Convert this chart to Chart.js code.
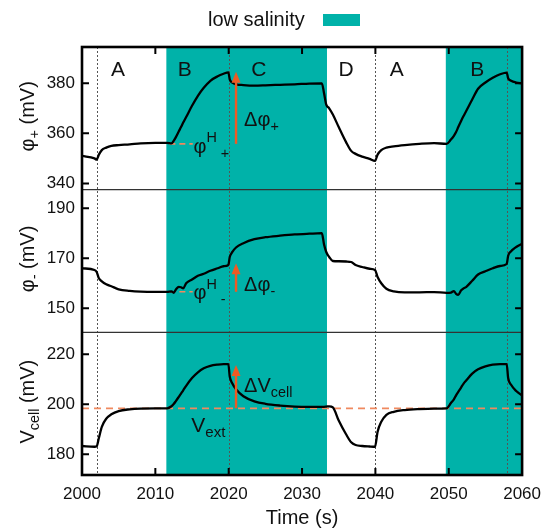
<!DOCTYPE html>
<html>
<head>
<meta charset="utf-8">
<script src="https://cdn.jsdelivr.net/npm/chart.js@4.4.0/dist/chart.umd.min.js"></script>
<style>
  html, body { margin: 0; padding: 0; background: #fff; }
</style>
</head>
<body>
<canvas id="chart" width="550" height="530"></canvas>
<script>
// time axis (s) and the three measured potentials (mV)
const time = [2000, 2001.7, 2002.0, 2002.3, 2002.7, 2003.3, 2004, 2005, 2006.5, 2008, 2010, 2011.6,
  2012.2, 2012.5, 2012.8, 2013.2, 2013.5, 2013.8, 2014.2, 2015, 2015.8, 2016.6, 2017.5, 2018.5, 2019.3, 2019.95, 2020.15,
  2020.5, 2021, 2022, 2023.5, 2025, 2027, 2029, 2031, 2032.7, 2033.0, 2033.3, 2033.7, 2034.2, 2035,
  2036, 2036.7, 2037.3, 2038.2, 2039.2, 2039.95, 2040.3, 2040.8, 2041.5, 2042.5, 2044, 2046, 2048,
  2049.7, 2050.3, 2050.7, 2051, 2051.3, 2051.7, 2052.0, 2052.4, 2053.2, 2054, 2055, 2056, 2057, 2057.9, 2058.1, 2058.5, 2059.2, 2060];

const phiPlus = [351, 350, 349.5, 351.5, 353.3, 354.3, 355, 355.3, 355.6, 356, 356.2, 356.2,
  356.0, 357, 358.5, 360.8, 362.5, 364.3, 366.5, 371, 375, 378.2, 381, 382.8, 383.8, 384.4, 381.5,
  380.3, 379.6, 379.3, 379.1, 379.2, 379.4, 379.6, 379.9, 380, 376, 371.5, 370, 367.5, 362.5,
  356.5, 353, 351.8, 350.7, 349.8, 349, 351.5, 353.3, 354.3, 354.8, 355.3, 355.8, 356.1,
  355.8, 357.5, 359, 360.5, 362.5, 365, 366.8, 369, 373.5, 377.8, 380.3, 382.2, 383.6, 384.3, 382, 381, 380.3, 380];

const phiMinus = [166, 165.3, 164.5, 162, 160.8, 159.6, 158.8, 157.6, 157, 156.7, 156.6, 156.6,
  156.8, 156.2, 157.5, 158.6, 158.4, 158.0, 160, 161.5, 163, 163.8, 165, 166, 166.8, 167.3, 170.6,
  172.5, 174.3, 176, 177.6, 178.4, 179, 179.5, 179.8, 180, 175.5, 172.5, 170.5, 168.9, 168.8,
  168.7, 168.5, 167.3, 166.5, 165.8, 165.3, 162.5, 160, 157.8, 156.8, 156.4, 156.4, 156.5,
  156.2, 156.3, 156.9, 155.8, 155.4, 157.2, 157.9, 158.6, 161, 163.5, 164.8, 166, 166.9, 167.7, 171, 172.8, 174.5, 175.8];

const vCell = [183.3, 183, 183.2, 186.5, 191, 194.2, 196, 197.3, 198, 198.3, 198.4, 198.4,
  199.2, 200.1, 201.3, 203, 204.3, 205.6, 207.4, 210.5, 212.8, 214.4, 215.4, 215.9, 216.1, 216.1, 211,
  208.3, 206, 203.2, 201.2, 200.2, 199.5, 199.1, 199, 199, 199, 199.1, 199.2, 198.8, 193.5,
  188, 184.8, 183.7, 183.3, 183.1, 183, 189, 193, 195.8, 197, 197.7, 198.1, 198.3,
  198.4, 200.5, 202, 203.6, 205, 206.8, 208.2, 209.6, 212.3, 214, 215.2, 215.9, 216.1, 216.1, 210.5, 207.8, 205.3, 203.5];

// low salinity periods [start, end] and switching instants
const lowSalinityStart = [2011.5, 2049.6];
const lowSalinityEnd = [2033.4, 2060];
const switchTimes = [2002, 2020, 2040, 2058];

// phase labels
const phaseLabels = ['A', 'B', 'C', 'D', 'A', 'B'];
const phaseTimes = [2004.9, 2014, 2024.1, 2036, 2042.9, 2053.9];

// tick labels
const xTicks = [2000, 2010, 2020, 2030, 2040, 2050, 2060];
const phiPlusTicks = [340, 360, 380];
const phiMinusTicks = [150, 170, 190];
const vCellTicks = [180, 200, 220];

// reference levels used by the annotations
const vExt = 198.4;
const phiPlusH = 355.8;
const phiMinusH = 156.6;
const deltaTime = 2021;
const phiPlusTop = 384.6;
const phiMinusTop = 168;
const vCellTop = 215.7;

const FONT = '"Liberation Sans", Arial, sans-serif';
const TEAL = '#00b2a9';
const ORANGE = '#ee5a24';
const SALMON = '#f0895f';

function pts(vals) {
  return time.map((t, i) => ({ x: t, y: vals[i] }));
}

function setTicks(list) {
  return function (scale) { scale.ticks = list.map(v => ({ value: v })); };
}

// text with sub/superscript pieces: parts = [[text, 'n'|'sub'|'sup'], ...]
function richWidth(ctx, parts, size) {
  let w = 0;
  parts.forEach(([txt, kind]) => {
    ctx.font = (kind === 'n' ? size : size * 0.72) + 'px ' + FONT;
    w += ctx.measureText(txt).width;
  });
  return w;
}
function drawRich(ctx, x, y, parts, size) {
  let cx = x;
  ctx.textAlign = 'left';
  ctx.textBaseline = 'middle';
  parts.forEach(([txt, kind]) => {
    const s = kind === 'n' ? size : size * 0.72;
    const dy = kind === 'sub' ? size * 0.33 : kind === 'sup' ? -size * 0.45 : 0;
    ctx.font = s + 'px ' + FONT;
    ctx.fillText(txt, cx, y + dy);
    cx += ctx.measureText(txt).width;
  });
}

const yCommon = {
  type: 'linear',
  position: 'left',
  stack: 'panels',
  stackWeight: 1,
  grid: { display: false, drawTicks: false },
  border: { display: false },
  ticks: { font: { size: 17, family: FONT }, color: '#111', padding: 7 },
  afterFit: s => { s.width = 82; }
};

const decor = {
  id: 'decor',
  beforeDatasetsDraw(chart) {
    const { ctx, chartArea: a, scales } = chart;
    const x = scales.x;
    ctx.save();
    // low salinity bands
    ctx.fillStyle = TEAL;
    lowSalinityStart.forEach((s, i) => {
      const x1 = Math.max(a.left, x.getPixelForValue(s));
      const x2 = Math.min(a.right, x.getPixelForValue(lowSalinityEnd[i]));
      ctx.fillRect(x1, a.top, x2 - x1, a.bottom - a.top);
    });
    // switching instants
    ctx.strokeStyle = '#555';
    ctx.lineWidth = 1;
    ctx.setLineDash([2, 2]);
    switchTimes.forEach(t => {
      const px = Math.round(x.getPixelForValue(t)) + 0.5;
      ctx.beginPath();
      ctx.moveTo(px, a.top);
      ctx.lineTo(px, a.bottom);
      ctx.stroke();
    });
    // V_ext reference line
    ctx.strokeStyle = SALMON;
    ctx.lineWidth = 1.8;
    ctx.setLineDash([7, 5]);
    const yv = scales.yCell.getPixelForValue(vExt);
    ctx.beginPath();
    ctx.moveTo(a.left, yv);
    ctx.lineTo(a.right, yv);
    ctx.stroke();
    // phi^H levels
    ctx.lineWidth = 1.6;
    ctx.setLineDash([6, 4]);
    [[scales.yPlus, phiPlusH], [scales.yMinus, phiMinusH]].forEach(([sc, v]) => {
      const py = sc.getPixelForValue(v);
      ctx.beginPath();
      ctx.moveTo(x.getPixelForValue(lowSalinityStart[0]) + 3, py);
      ctx.lineTo(x.getPixelForValue(2015.1), py);
      ctx.stroke();
    });
    ctx.restore();
  },
  afterDatasetsDraw(chart) {
    const { ctx, chartArea: a, scales } = chart;
    const x = scales.x;
    ctx.save();
    // arrows
    function arrow(sc, v0, v1) {
      const px = x.getPixelForValue(deltaTime);
      const y0 = sc.getPixelForValue(v0);
      const y1 = sc.getPixelForValue(v1);
      ctx.strokeStyle = ORANGE;
      ctx.fillStyle = ORANGE;
      ctx.lineWidth = 2.4;
      ctx.beginPath();
      ctx.moveTo(px, y0);
      ctx.lineTo(px, y1 + 8);
      ctx.stroke();
      ctx.beginPath();
      ctx.moveTo(px, y1);
      ctx.lineTo(px - 4.5, y1 + 11);
      ctx.lineTo(px + 4.5, y1 + 11);
      ctx.closePath();
      ctx.fill();
    }
    arrow(scales.yPlus, phiPlusH, phiPlusTop);
    arrow(scales.yMinus, phiMinusH, phiMinusTop);
    arrow(scales.yCell, vExt, vCellTop);

    // annotation text
    ctx.fillStyle = '#111';
    const tx = x.getPixelForValue(2022.1);
    drawRich(ctx, tx, scales.yPlus.getPixelForValue(365.3), [['Δφ', 'n'], ['+', 'sub']], 20);
    drawRich(ctx, tx, scales.yMinus.getPixelForValue(159.3), [['Δφ', 'n'], ['-', 'sub']], 20);
    drawRich(ctx, tx, scales.yCell.getPixelForValue(207.2), [['ΔV', 'n'], ['cell', 'sub']], 20);
    const hx = x.getPixelForValue(2015.2);
    drawRich(ctx, hx, scales.yPlus.getPixelForValue(354.4), [['φ', 'n'], ['H', 'sup'], [' +', 'sub']], 20);
    drawRich(ctx, hx, scales.yMinus.getPixelForValue(155.9), [['φ', 'n'], ['H', 'sup'], [' -', 'sub']], 20);
    drawRich(ctx, x.getPixelForValue(2014.9), scales.yCell.getPixelForValue(191.4), [['V', 'n'], ['ext', 'sub']], 21);

    ctx.font = '21px ' + FONT;
    ctx.textAlign = 'center';
    ctx.textBaseline = 'middle';
    phaseLabels.forEach((lab, i) => {
      ctx.fillText(lab, x.getPixelForValue(phaseTimes[i]), scales.yPlus.getPixelForValue(385.4));
    });

    // panel separators
    ctx.strokeStyle = '#333';
    ctx.lineWidth = 1.4;
    [scales.yPlus.bottom, scales.yMinus.bottom].forEach(y => {
      ctx.beginPath();
      ctx.moveTo(a.left, y);
      ctx.lineTo(a.right, y);
      ctx.stroke();
    });

    // inward ticks
    ctx.strokeStyle = '#000';
    ctx.lineWidth = 2;
    const tl = 7;
    [[scales.yPlus, phiPlusTicks], [scales.yMinus, phiMinusTicks], [scales.yCell, vCellTicks]].forEach(([sc, list]) => {
      list.forEach(v => {
        const y = sc.getPixelForValue(v);
        ctx.beginPath();
        ctx.moveTo(a.left, y); ctx.lineTo(a.left + tl, y);
        ctx.moveTo(a.right, y); ctx.lineTo(a.right - tl, y);
        ctx.stroke();
      });
    });
    xTicks.slice(1, -1).forEach(t => {
      const px = x.getPixelForValue(t);
      ctx.beginPath();
      ctx.moveTo(px, a.bottom); ctx.lineTo(px, a.bottom - tl);
      ctx.moveTo(px, a.top); ctx.lineTo(px, a.top + tl);
      ctx.stroke();
    });

    // frame
    ctx.lineWidth = 2.6;
    ctx.strokeRect(a.left, a.top, a.right - a.left, a.bottom - a.top);
    ctx.restore();
  },
  afterDraw(chart) {
    const { ctx, scales } = chart;
    ctx.save();
    ctx.fillStyle = '#111';
    // y axis titles with subscripts
    const titles = [
      [scales.yPlus, [['φ', 'n'], ['+', 'sub'], [' (mV)', 'n']]],
      [scales.yMinus, [['φ', 'n'], ['-', 'sub'], [' (mV)', 'n']]],
      [scales.yCell, [['V', 'n'], ['cell', 'sub'], [' (mV)', 'n']]]
    ];
    titles.forEach(([sc, parts]) => {
      const w = richWidth(ctx, parts, 20);
      ctx.save();
      ctx.translate(28, (sc.top + sc.bottom) / 2 - 2);
      ctx.rotate(-Math.PI / 2);
      drawRich(ctx, -w / 2, 0, parts, 20);
      ctx.restore();
    });
    // legend
    ctx.font = '20px ' + FONT;
    ctx.textAlign = 'left';
    ctx.textBaseline = 'middle';
    ctx.fillText('low salinity', 208, 20);
    ctx.fillStyle = TEAL;
    ctx.fillRect(323, 14, 37, 12);
    ctx.restore();
  }
};

const line = { borderColor: '#000', borderWidth: 2.3, pointRadius: 0, cubicInterpolationMode: 'monotone', fill: false };

new Chart(document.getElementById('chart'), {
  type: 'line',
  data: {
    datasets: [
      Object.assign({ label: 'φ+', data: pts(phiPlus), yAxisID: 'yPlus' }, line),
      Object.assign({ label: 'φ-', data: pts(phiMinus), yAxisID: 'yMinus' }, line),
      Object.assign({ label: 'Vcell', data: pts(vCell), yAxisID: 'yCell' }, line)
    ]
  },
  options: {
    responsive: false,
    animation: false,
    layout: { padding: { top: 47, right: 21, left: 0, bottom: 0 } },
    plugins: { legend: { display: false }, tooltip: { enabled: false } },
    scales: {
      x: {
        type: 'linear', min: 2000, max: 2060,
        afterBuildTicks: setTicks(xTicks),
        grid: { display: false, drawTicks: false },
        border: { display: false },
        ticks: { font: { size: 17, family: FONT }, color: '#111', padding: 9, maxRotation: 0, callback: v => String(v) },
        title: { display: true, text: 'Time (s)', font: { size: 20, family: FONT }, color: '#111', padding: 0 },
        afterFit: s => { s.height = 55; }
      },
      yCell: Object.assign({}, yCommon, { min: 171.7, max: 228.8, afterBuildTicks: setTicks(vCellTicks) }),
      yMinus: Object.assign({}, yCommon, { min: 140.4, max: 197.4, afterBuildTicks: setTicks(phiMinusTicks) }),
      yPlus: Object.assign({}, yCommon, { min: 337.5, max: 394.5, afterBuildTicks: setTicks(phiPlusTicks) })
    }
  },
  plugins: [decor]
});
</script>
</body>
</html>
